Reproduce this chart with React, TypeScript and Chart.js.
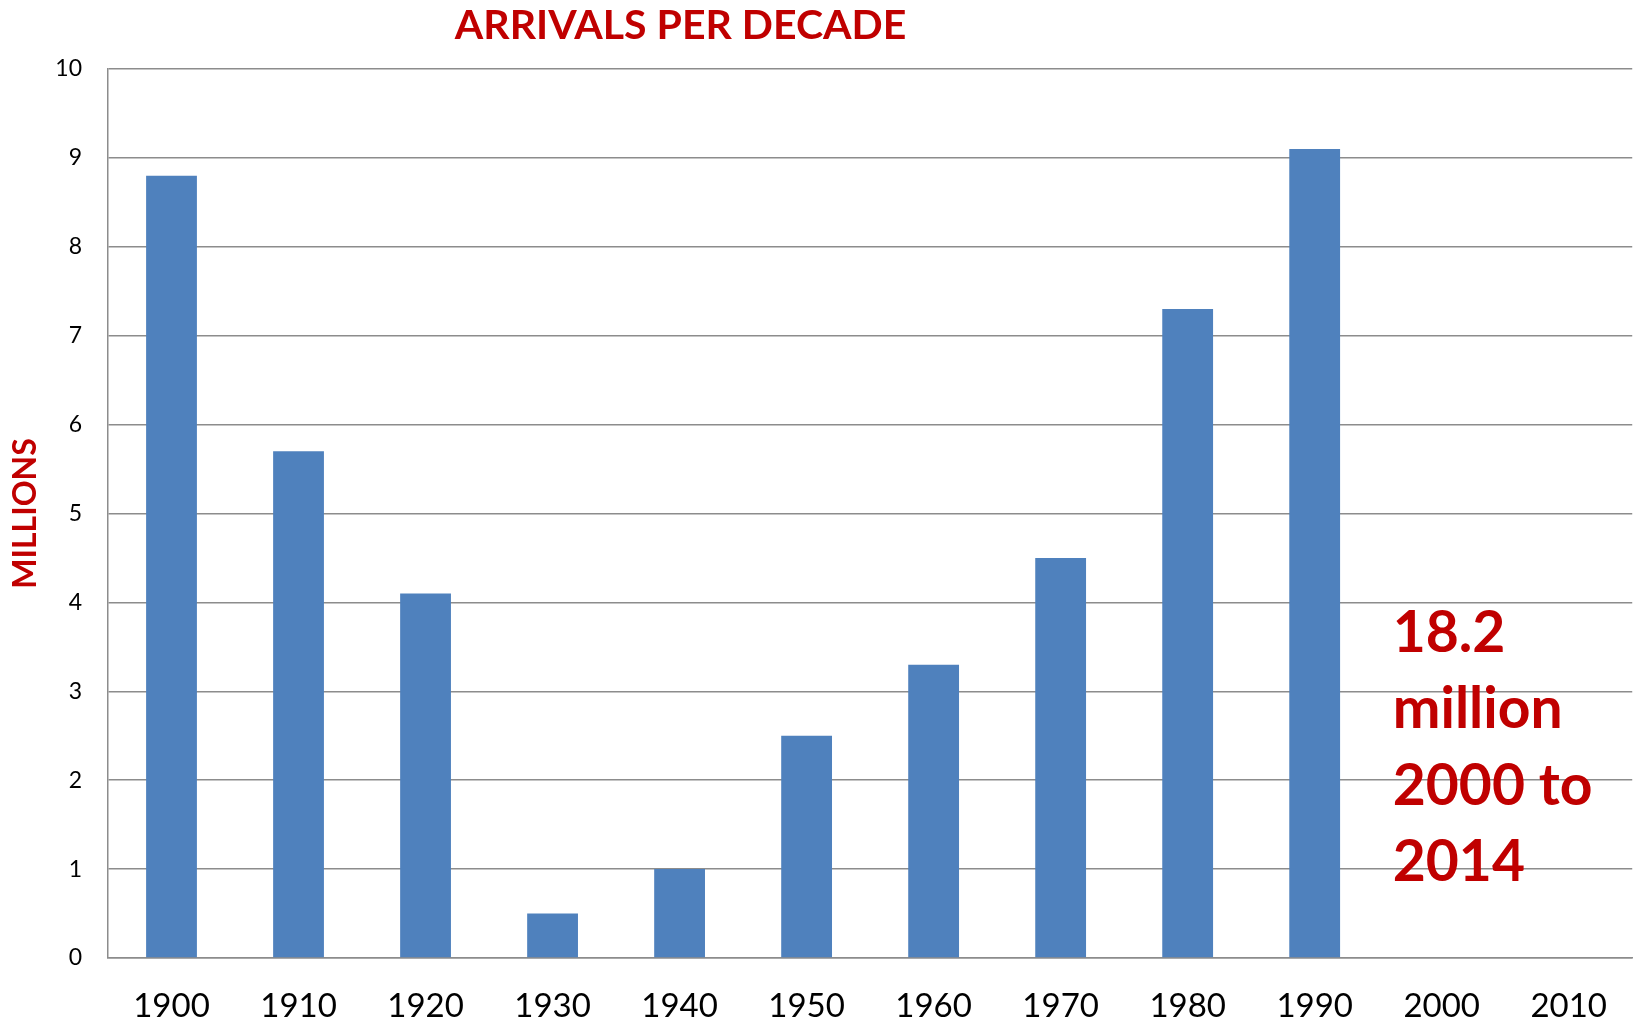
import React, { useEffect, useRef } from "react";
import { Chart, registerables } from "chart.js";

Chart.register(...registerables);

const decades = ["1900", "1910", "1920", "1930", "1940", "1950", "1960", "1970", "1980", "1990", "2000", "2010"];
const arrivals: (number | null)[] = [8.8, 5.7, 4.1, 0.5, 1.0, 2.5, 3.3, 4.5, 7.3, 9.1, null, null];
const yTicks = [0, 1, 2, 3, 4, 5, 6, 7, 8, 9, 10];
const chartTitle = "ARRIVALS PER DECADE";
const yTitle = "MILLIONS";
const noteLines = ["18.2", "million", "2000 to", "2014"];

const RED = "#C00000";
const FONT = "Lato, 'Open Sans', sans-serif";

const textPlugin = {
  id: "textPlugin",
  afterDraw(chart: any) {
    const ctx = chart.ctx;
    const x = chart.scales.x;
    const y = chart.scales.y;
    ctx.save();
    ctx.fillStyle = RED;
    ctx.textBaseline = "alphabetic";
    // title
    ctx.font = `bold 41px ${FONT}`;
    ctx.textAlign = "center";
    ctx.fillText(chartTitle, x.getPixelForValue(4) + 1, 39);
    // note
    ctx.font = `bold 57px ${FONT}`;
    ctx.textAlign = "left";
    const nx = x.getPixelForValue(10) - 49;
    const ny0 = y.getPixelForValue(3.6) + 14;
    noteLines.forEach((l, i) => ctx.fillText(l, nx, ny0 + i * 76.5));
    ctx.restore();
  },
};

export default function App() {
  const ref = useRef<HTMLCanvasElement>(null);
  useEffect(() => {
    if (!ref.current) return;
    const chart = new Chart(ref.current, {
      type: "bar",
      data: {
        labels: decades,
        datasets: [
          {
            data: arrivals,
            backgroundColor: "#4F81BD",
            borderWidth: 0,
            barPercentage: 0.4,
            categoryPercentage: 1,
          },
        ],
      },
      plugins: [textPlugin],
      options: {
        animation: false,
        responsive: false,
        maintainAspectRatio: false,
        layout: { padding: { top: 69, right: 0, left: 0, bottom: 0 } },
        plugins: { legend: { display: false }, tooltip: { enabled: false }, title: { display: false } },
        scales: {
          x: {
            grid: { display: false, drawTicks: false },
            border: { color: "#8c8c8c", width: 1.5 },
            ticks: { color: "#000", font: { family: FONT, size: 33 }, padding: 29, maxRotation: 0 },
            afterFit(s: any) {
              s.height = 65;
            },
          },
          y: {
            min: 0,
            max: 10,
            afterBuildTicks(s: any) {
              s.ticks = yTicks.map((v) => ({ value: v }));
            },
            grid: { color: "#8c8c8c", lineWidth: 1.5, drawTicks: false },
            border: { color: "#8c8c8c", width: 1.5 },
            ticks: { color: "#000", font: { family: FONT, size: 23 }, padding: 26 },
            title: {
              display: true,
              text: yTitle,
              color: RED,
              font: { family: FONT, size: 32, weight: "bold" },
              padding: { top: 6, bottom: 0 },
            },
            afterFit(s: any) {
              s.width = 108;
            },
          },
        },
      },
    });
    return () => chart.destroy();
  }, []);
  return (
    <div style={{ position: "fixed", left: 0, top: 0, width: 1636, height: 1023, background: "#fff" }}>
      <canvas ref={ref} width={1636} height={1023} style={{ width: 1636, height: 1023 }} />
    </div>
  );
}
